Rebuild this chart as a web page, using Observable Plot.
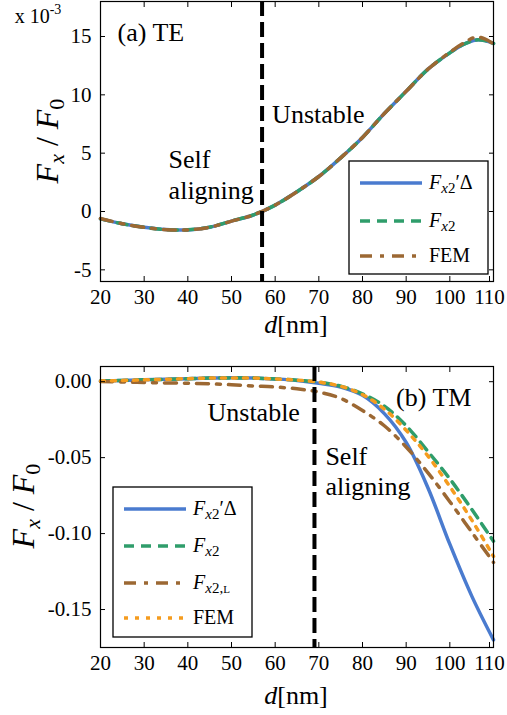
<!DOCTYPE html>
<html>
<head>
<meta charset="utf-8">
<script src="https://cdn.jsdelivr.net/npm/d3@7"></script>
<script src="https://cdn.jsdelivr.net/npm/@observablehq/plot@0.6"></script>
<style>
  body { margin: 0; background: #fff; }
  #wrap { position: relative; width: 507px; height: 715px; font-family: "Liberation Serif", "DejaVu Serif", serif; }
  #wrap svg, #wrap svg text { font-family: "Liberation Serif", "DejaVu Serif", serif; }
  #wrap > svg { display: block; }
  .legend { position: absolute; }
</style>
</head>
<body>
<div id="wrap"></div>
<script>
// ---------- data ----------
const xTicks = [20, 30, 40, 50, 60, 70, 80, 90, 100, 110];
const teTicks = [-5, 0, 5, 10, 15];
const tmTicks = [0, -0.05, -0.10, -0.15];

// (a) TE, values in units of 1e-3
const teD     = [20, 25, 30, 35, 40, 45, 50, 55, 60, 65, 70, 75, 80, 85, 90, 95, 100, 103, 106, 108, 110];
const teDelta = [-0.63, -1.05, -1.35, -1.55, -1.58, -1.35, -0.82, -0.3, 0.55, 1.7, 3.0, 4.6, 6.35, 8.4, 10.3, 12.2, 13.6, 14.3, 14.7, 14.65, 14.4];
const teFx2   = [-0.63, -1.05, -1.36, -1.55, -1.57, -1.34, -0.82, -0.29, 0.55, 1.7, 3.0, 4.6, 6.35, 8.4, 10.3, 12.2, 13.6, 14.3, 14.7, 14.65, 14.4];
const teFEM   = [-0.60, -1.05, -1.36, -1.56, -1.58, -1.35, -0.83, -0.3, 0.55, 1.7, 3.0, 4.6, 6.35, 8.4, 10.3, 12.2, 13.65, 14.4, 14.95, 14.8, 14.35];
const teSplit = 57;

// (b) TM
const tmD     = [20, 25, 30, 35, 40, 45, 50, 55, 60, 65, 70, 75, 80, 85, 90, 95, 100, 105, 110];
const tmDelta = [0.0005, 0.0008, 0.0012, 0.0016, 0.002, 0.0024, 0.0026, 0.0025, 0.0018, 0.0008, -0.001, -0.0035, -0.009, -0.021, -0.040, -0.070, -0.107, -0.141, -0.170];
const tmFx2   = [0.0005, 0.0008, 0.0012, 0.0016, 0.002, 0.0024, 0.0025, 0.0024, 0.0018, 0.001, -0.0003, -0.003, -0.008, -0.016, -0.029, -0.046, -0.064, -0.084, -0.105];
const tmFx2L  = [0.0002, -0.0002, -0.0005, -0.0008, -0.001, -0.0014, -0.002, -0.0028, -0.0035, -0.0047, -0.0068, -0.011, -0.019, -0.029, -0.043, -0.060, -0.079, -0.099, -0.119];
const tmFEM   = [0.0005, 0.0008, 0.0012, 0.0016, 0.002, 0.0024, 0.0025, 0.0024, 0.0018, 0.001, -0.0003, -0.003, -0.0085, -0.018, -0.032, -0.049, -0.069, -0.091, -0.115];
const tmSplit = 69;

const teNotes = [
  {text: "(a) TE", d: 23.9, v: 14.6},
  {text: "Unstable", d: 59.3, v: 7.6},
  {text: "Self", d: 35.6, v: 3.7},
  {text: "aligning", d: 35.6, v: 1.1}
];
const tmNotes = [
  {text: "(b) TM", d: 87.7, v: -0.016},
  {text: "Unstable", d: 44.5, v: -0.0258},
  {text: "Self", d: 71.5, v: -0.0547},
  {text: "aligning", d: 71.5, v: -0.0743}
];

// ---------- styles ----------
const C = {blue: "#4a7bcf", green: "#2f9d6b", brown: "#9c6833", orange: "#f59c1f"};
const S = {
  delta: {stroke: C.blue, strokeWidth: 3.5},
  fx2:   {stroke: C.green, strokeWidth: 3.5, strokeDasharray: "10,7"},
  fx2l:  {stroke: C.brown, strokeWidth: 3.5, strokeDasharray: "12,8,4,8"},
  fem3:  {stroke: C.brown, strokeWidth: 3.5, strokeDasharray: "12,8,4,8"},
  fem4:  {stroke: C.orange, strokeWidth: 3.5, strokeDasharray: "4,7"}
};

const rows = (xs, ys) => xs.map((d, i) => ({d, v: ys[i]}));
const FONT = "'Liberation Serif', 'DejaVu Serif', serif";

function axes(yTicks, yFmt) {
  const inner = xTicks.slice(0, -1), last = xTicks.slice(-1);
  return [
    Plot.frame({stroke: "#000", strokeWidth: 1.2}),
    Plot.axisX(inner, {tickSize: -5, tickPadding: 13, tickFormat: d => String(d), fontSize: 21, label: null}),
    Plot.axisX(last, {tickSize: -5, tickPadding: 13, tickFormat: d => String(d), fontSize: 21, label: null, dx: -4}),
    Plot.axisX(xTicks, {anchor: "top", tickSize: -5, tickFormat: () => "", label: null}),
    Plot.axisY(yTicks, {tickSize: -5, tickPadding: 14, tickFormat: yFmt, fontSize: 21, label: null}),
    Plot.axisY(yTicks, {anchor: "right", tickSize: -5, tickFormat: () => "", label: null})
  ];
}
function notes(arr) {
  return Plot.text(arr, {x: "d", y: "v", text: "text", textAnchor: "start", lineAnchor: "bottom", fontSize: 26, fill: "#000"});
}

const wrap = document.getElementById("wrap");

// ---------- (a) TE ----------
const topPlot = Plot.plot({
  width: 507, height: 340,
  marginTop: 1, marginBottom: 59, marginLeft: 100, marginRight: 14,
  style: {fontFamily: FONT, fontSize: "21px", color: "#000", background: "#fff"},
  x: {domain: [20, 110]},
  y: {domain: [-6, 18]},
  marks: [
    Plot.line(rows(teD, teDelta), {x: "d", y: "v", curve: "catmull-rom", ...S.delta}),
    Plot.line(rows(teD, teFx2), {x: "d", y: "v", curve: "catmull-rom", ...S.fx2}),
    Plot.line(rows(teD, teFEM), {x: "d", y: "v", curve: "catmull-rom", ...S.fem3}),
    Plot.ruleX([teSplit], {stroke: "#000", strokeWidth: 4, strokeDasharray: "15,6"}),
    notes(teNotes),
    ...axes(teTicks, d => String(d))
  ]
});
wrap.appendChild(topPlot);

// ---------- (b) TM ----------
const botPlot = Plot.plot({
  width: 507, height: 375,
  marginTop: 26, marginBottom: 68, marginLeft: 100, marginRight: 14,
  style: {fontFamily: FONT, fontSize: "21px", color: "#000", background: "#fff"},
  x: {domain: [20, 110]},
  y: {domain: [-0.175, 0.01]},
  marks: [
    Plot.line(rows(tmD, tmDelta), {x: "d", y: "v", curve: "catmull-rom", ...S.delta}),
    Plot.line(rows(tmD, tmFx2), {x: "d", y: "v", curve: "catmull-rom", ...S.fx2}),
    Plot.line(rows(tmD, tmFx2L), {x: "d", y: "v", curve: "catmull-rom", ...S.fx2l}),
    Plot.line(rows(tmD, tmFEM), {x: "d", y: "v", curve: "catmull-rom", ...S.fem4}),
    Plot.ruleX([tmSplit], {stroke: "#000", strokeWidth: 4, strokeDasharray: "15,6"}),
    notes(tmNotes),
    ...axes(tmTicks, d => d.toFixed(2))
  ]
});
wrap.appendChild(botPlot);

// ---------- axis titles with sub/superscripts ----------
function yTitle(svg, cx, cy) {
  const t = d3.select(svg).append("text")
    .attr("transform", `translate(${cx},${cy}) rotate(-90)`)
    .attr("text-anchor", "middle").attr("font-family", FONT).attr("font-size", 32).attr("fill", "#000");
  t.append("tspan").attr("font-style", "italic").text("F");
  t.append("tspan").attr("font-style", "italic").attr("font-size", 22).attr("dy", 6).text("x");
  t.append("tspan").attr("dy", -6).text(" / ");
  t.append("tspan").attr("font-style", "italic").text("F");
  t.append("tspan").attr("font-size", 22).attr("dy", 6).text("0");
}
function xTitle(svg, cx, cy) {
  const t = d3.select(svg).append("text")
    .attr("x", cx).attr("y", cy).attr("text-anchor", "middle")
    .attr("font-family", FONT).attr("font-size", 26).attr("fill", "#000");
  t.append("tspan").attr("font-style", "italic").text("d");
  t.append("tspan").text("[nm]");
}
yTitle(topPlot, 58, 141);
xTitle(topPlot, 296, 333);
yTitle(botPlot, 34, 166);
xTitle(botPlot, 296, 364);
{
  const t = d3.select(topPlot).append("text").attr("x", 38).attr("y", 23)
    .attr("font-family", FONT).attr("font-size", 20).attr("fill", "#000");
  t.append("tspan").text("x 10");
  t.append("tspan").attr("font-size", 14).attr("dy", -9).text("-3");
}

// ---------- legends ----------
function legend(left, topPx, w, h, items) {
  const div = d3.select(wrap).append("div").attr("class", "legend")
    .style("left", left + "px").style("top", topPx + "px");
  const svg = div.append("svg").attr("width", w).attr("height", h).style("display", "block");
  svg.append("rect").attr("x", 1).attr("y", 1).attr("width", w - 2).attr("height", h - 2)
    .attr("fill", "#fff").attr("stroke", "#000").attr("stroke-width", 1.3);
  items.forEach((it) => {
    const y = it.y;
    svg.append("line").attr("x1", 12).attr("x2", 74).attr("y1", y).attr("y2", y)
      .attr("stroke", it.style.stroke).attr("stroke-width", it.style.strokeWidth)
      .attr("stroke-dasharray", it.style.strokeDasharray || null);
    const t = svg.append("text").attr("x", 81).attr("y", y + 6)
      .attr("font-family", FONT).attr("font-size", 20).attr("fill", "#000");
    it.label(t);
  });
}
const lbDelta = t => { t.append("tspan").attr("font-style", "italic").text("F");
  t.append("tspan").attr("font-size", 15).attr("dy", 4).attr("font-style", "italic").text("x");
  t.append("tspan").attr("font-size", 15).text("2");
  t.append("tspan").attr("dy", -4).text("′Δ"); };
const lbFx2 = t => { t.append("tspan").attr("font-style", "italic").text("F");
  t.append("tspan").attr("font-size", 15).attr("dy", 4).attr("font-style", "italic").text("x");
  t.append("tspan").attr("font-size", 15).text("2"); };
const lbFx2L = t => { t.append("tspan").attr("font-style", "italic").text("F");
  t.append("tspan").attr("font-size", 15).attr("dy", 4).attr("font-style", "italic").text("x");
  t.append("tspan").attr("font-size", 15).text("2,");
  t.append("tspan").attr("font-size", 11).text("L"); };
const lbFEM = t => { t.append("tspan").text("FEM"); };

legend(348, 160, 141, 115, [
  {y: 23, style: S.delta, label: lbDelta},
  {y: 61, style: S.fx2, label: lbFx2},
  {y: 96, style: S.fem3, label: lbFEM}
]);
legend(112, 486, 141, 152, [
  {y: 23, style: S.delta, label: lbDelta},
  {y: 60, style: S.fx2, label: lbFx2},
  {y: 97, style: S.fx2l, label: lbFx2L},
  {y: 132, style: S.fem4, label: lbFEM}
]);
</script>
</body>
</html>
